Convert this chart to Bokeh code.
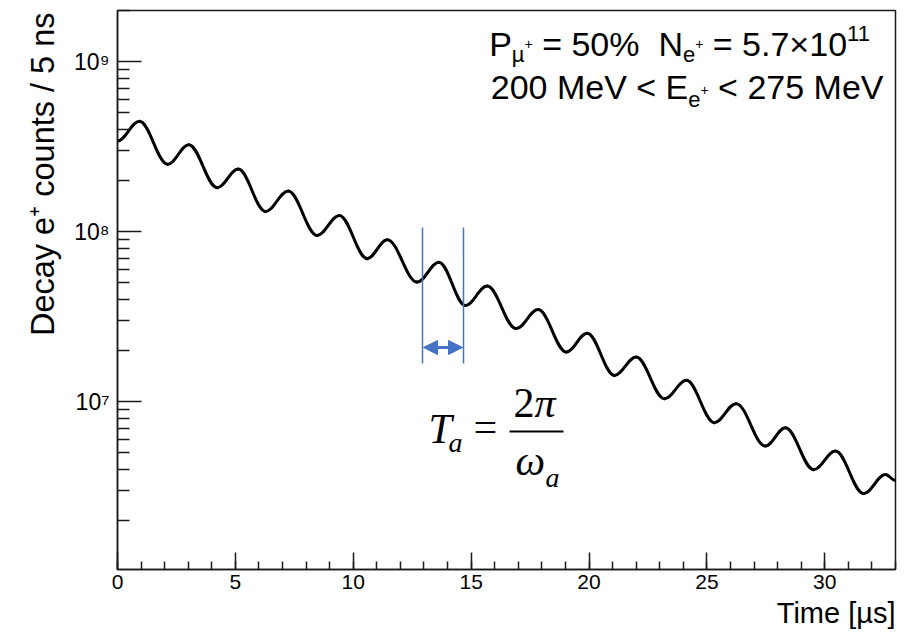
import math
from bokeh.plotting import figure
from bokeh.models import Range1d, FixedTicker, Label, Arrow, NormalHead, Title
from bokeh.embed import file_html
from bokeh.resources import INLINE

# ---------------- data ----------------
# successive extrema of the decay curve (start, peaks/troughs, end)
time_us = [0.0, 0.93, 2.13, 3.02, 4.23, 5.12, 6.28, 7.24, 8.47, 9.41, 10.59, 11.44,
           12.71, 13.63, 14.76, 15.68, 16.91, 17.84, 19.04, 19.92, 21.08, 22.0,
           23.2, 24.13, 25.32, 26.24, 27.48, 28.33, 29.53, 30.45, 31.65, 32.57, 33.0]
counts = [3.41e8, 4.46e8, 2.49e8, 3.25e8, 1.815e8, 2.335e8, 1.316e8, 1.733e8,
          9.51e7, 1.247e8, 6.94e7, 8.97e7, 5.05e7, 6.62e7, 3.68e7, 4.79e7,
          2.69e7, 3.48e7, 1.96e7, 2.53e7, 1.428e7, 1.83e7, 1.04e7, 1.335e7,
          7.52e6, 9.73e6, 5.48e6, 7.03e6, 3.98e6, 5.12e6, 2.88e6, 3.73e6, 3.44e6]

x_major_ticks = [0, 5, 10, 15, 20, 25, 30]
x_minor_ticks = list(range(0, 34))
y_major_ticks = [1e7, 1e8, 1e9]
y_tick_labels = ["10\u2077", "10\u2078", "10\u2079"]

x_title = "Time [\u00b5s]"
y_title = "Decay e\u207a counts / 5 ns"

# ---------------- layout ----------------
X_MIN, X_MAX = 0.0, 33.0
Y_MIN, Y_MAX = 1.03e6, 2.0e9
PAGE_W, PAGE_H = 904, 635
RL, RT, RR, RB = 117, 10, 895, 569     # frame edges in page pixels

SANS = "Liberation Sans"
SERIF = "Liberation Serif"
BLUE = "#4472C4"
DARK = "#1a1a1a"

p = figure(frame_width=RR - RL, frame_height=RB - RT, y_axis_type="log",
           x_range=Range1d(X_MIN, X_MAX), y_range=Range1d(Y_MIN, Y_MAX),
           output_backend="svg", toolbar_location=None,
           min_border_left=RL, min_border_right=PAGE_W - RR,
           min_border_top=RT, min_border_bottom=PAGE_H - RB)
p.title.visible = False
p.xgrid.visible = False
p.ygrid.visible = False
p.background_fill_color = "white"
p.border_fill_color = "white"
p.outline_line_color = DARK
p.outline_line_width = 1.5


def ref_x(px):
    return X_MIN + (px - RL) / (RR - RL) * (X_MAX - X_MIN)


def ref_y(py):
    lo, hi = math.log10(Y_MIN), math.log10(Y_MAX)
    return 10 ** (hi - (py - RT) / (RB - RT) * (hi - lo))


# axes
for ax in (p.xaxis[0], p.yaxis[0]):
    ax.axis_line_color = DARK
    ax.axis_line_width = 1.5
    ax.major_tick_line_color = DARK
    ax.minor_tick_line_color = DARK
    ax.major_tick_line_width = 1.5
    ax.minor_tick_line_width = 1.5
    ax.major_tick_out = 0
    ax.minor_tick_out = 0
    ax.major_label_text_font = SANS
    ax.major_label_text_color = "black"

p.xaxis.ticker = FixedTicker(ticks=x_major_ticks, minor_ticks=x_minor_ticks)
p.xaxis.major_tick_in = 17
p.xaxis.minor_tick_in = 8
p.xaxis.major_label_text_font_size = "21px"
p.xaxis.major_label_standoff = 5

y_minor = [m * 10 ** e for e in range(6, 10) for m in range(2, 10)
           if Y_MIN <= m * 10 ** e <= Y_MAX]
p.yaxis.ticker = FixedTicker(ticks=y_major_ticks, minor_ticks=y_minor)
p.yaxis.major_tick_in = 24
p.yaxis.minor_tick_in = 12
p.yaxis.major_label_text_font_size = "23px"
p.yaxis.major_label_standoff = 8
p.yaxis.major_label_overrides = {v: s for v, s in zip(y_major_ticks, y_tick_labels)}

# axis titles (ROOT style: at the far end of each axis)
p.add_layout(Title(text=y_title, align="right", vertical_align="bottom",
                   text_font=SANS, text_font_size="32.5px", text_font_style="normal",
                   text_color="black", offset=2, standoff=22), "left")
p.add_layout(Title(text=x_title, align="right", vertical_align="top",
                   text_font=SANS, text_font_size="29px", text_font_style="normal",
                   text_color="black", offset=0, standoff=11), "below")

# curve: smooth cubic segments between the read extrema
K = 0.363
x0 = time_us[:-1]
x1 = time_us[1:]
cx0 = [a + K * (b - a) for a, b in zip(x0, x1)]
cx1 = [b - K * (b - a) for a, b in zip(x0, x1)]
p.bezier(x0=x0, y0=counts[:-1], x1=x1, y1=counts[1:],
         cx0=cx0, cy0=counts[:-1], cx1=cx1, cy1=counts[1:],
         line_color="black", line_width=3, line_cap="round")

# period annotation
p.segment(x0=[ref_x(422), ref_x(463)], y0=[ref_y(227)] * 2,
          x1=[ref_x(422), ref_x(463)], y1=[ref_y(363)] * 2,
          line_color=BLUE, line_width=1.5)
p.add_layout(Arrow(x_start=ref_x(423), y_start=ref_y(347), x_end=ref_x(462), y_end=ref_y(347),
                   start=NormalHead(size=14, fill_color=BLUE, line_color=BLUE),
                   end=NormalHead(size=14, fill_color=BLUE, line_color=BLUE),
                   line_color=BLUE, line_width=3))

BASE_SHIFT = 0.35   # Label's anchor sits ~0.35 em above the baseline


def lab(px, py_base, text, font, size, style="normal", align="left"):
    p.add_layout(Label(x=ref_x(px), y=ref_y(py_base - BASE_SHIFT * size), text=text,
                       text_font=font, text_font_size=f"{size}px", text_font_style=style,
                       text_align=align, text_baseline="alphabetic", text_color="black"))


# formula T_a = 2pi / omega_a
lab(428, 443, "T", SERIF, 42, "italic")
lab(448, 452, "a", SERIF, 28, "italic")
lab(473, 441, "=", SERIF, 42)
lab(513, 417, "2", SERIF, 42)
lab(534, 417, "\u03c0", SERIF, 42, "italic")
p.segment(x0=[ref_x(509)], y0=[ref_y(431)], x1=[ref_x(563)], y1=[ref_y(431)],
          line_color="black", line_width=2)
lab(515, 475, "\u03c9", SERIF, 42, "italic")
lab(545, 487, "a", SERIF, 28, "italic")

# top-right info text
AW = {' ': 278, '\u00a0': 278, '=': 584, '%': 889, 'P': 667, 'N': 722, 'M': 833, 'e': 556,
      'V': 667, '<': 584, 'E': 667, '.': 278, '\u00d7': 584, '+': 584, '\u00b5': 576}


def tw(s, size):
    return sum(AW.get(ch, 556) for ch in s) * size / 1000.0


def runs_right(runs, x_right, baseline):
    x = x_right - sum(tw(s, sz) for s, sz, dy in runs)
    for s, sz, dy in runs:
        lab(x, baseline + dy, s, SANS, sz)
        x += tw(s, sz)


NB = "\u00a0"
FS = 34
line1 = [("P", FS, 0), ("\u00b5", 22, 7), ("+", 14, -7),
         (NB + "=" + NB + "50%" + NB + NB + "N", FS, 0), ("e", 22, 7), ("+", 14, -7),
         (NB + "=" + NB + "5.7\u00d710", FS, 0), ("11", 22, -14)]
line2 = [("200" + NB + "MeV" + NB + "<" + NB + "E", FS, 0), ("e", 22, 9), ("+", 14, -4),
         (NB + "<" + NB + "275" + NB + "MeV", FS, 0)]
runs_right(line1, 871, 55)
runs_right(line2, 883, 98)

open("out.html", "w").write(file_html(p, INLINE))
